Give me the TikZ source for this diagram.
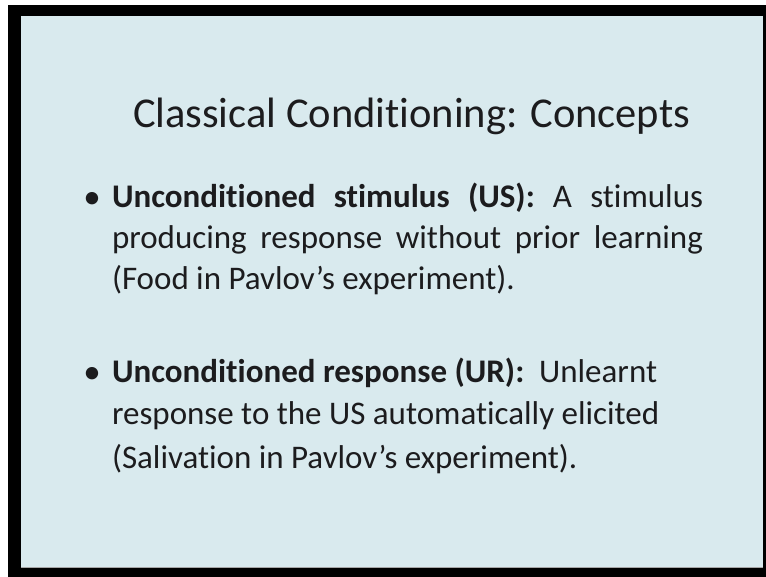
\documentclass[tikz,border=0pt]{standalone}
\usepackage{fontspec}
\setmainfont{Carlito}[RawFeature={-liga;-clig;-calt;-dlig}]
\definecolor{slidebg}{RGB}{217,234,238}
\definecolor{ink}{RGB}{28,28,30}
\begin{document}
\begin{tikzpicture}[x=1pt,y=-1pt,
  txt/.style={anchor=base west,inner sep=0pt,outer sep=0pt,text=ink,font=\fontsize{33}{40}\selectfont},
  ttl/.style={anchor=base west,inner sep=0pt,outer sep=0pt,text=ink,font=\fontsize{42.5}{50}\selectfont},
  bul/.style={anchor=base,inner sep=0pt,outer sep=0pt,text=ink,font=\fontsize{35}{40}\selectfont}]
\useasboundingbox (0,0) rectangle (766,577);
\fill[white] (0,0) rectangle (766,577);
\fill[black] (8,5) rectangle (766,577);
\fill[slidebg] (21,16) rectangle (763,568);
\draw[gray!70,line width=0.8pt] (21,567.5) -- (763,567.5);
\node[ttl] (title) at (133,128) {Classical Conditioning: Concepts};
\node[bul] (b1) at (92,208.5) {•};
\node[txt] (a1) at (112,208) {\makebox[591pt][s]{\textbf{Unconditioned stimulus (US):} A stimulus}};
\node[txt] (a2) at (112,249) {\makebox[591pt][s]{producing response without prior learning}};
\node[txt] (a3) at (112,290) {(Food in Pavlov’s experiment).};
\node[bul] (b2) at (92,383.5) {•};
\node[txt] (c1) at (112,383) {\textbf{Unconditioned response (UR):}\ \ Unlearnt};
\node[txt] (c2) at (112,424) {response to the US automatically elicited};
\node[txt] (c3) at (112,468) {(Salivation in Pavlov’s experiment).};
\end{tikzpicture}
\end{document}
